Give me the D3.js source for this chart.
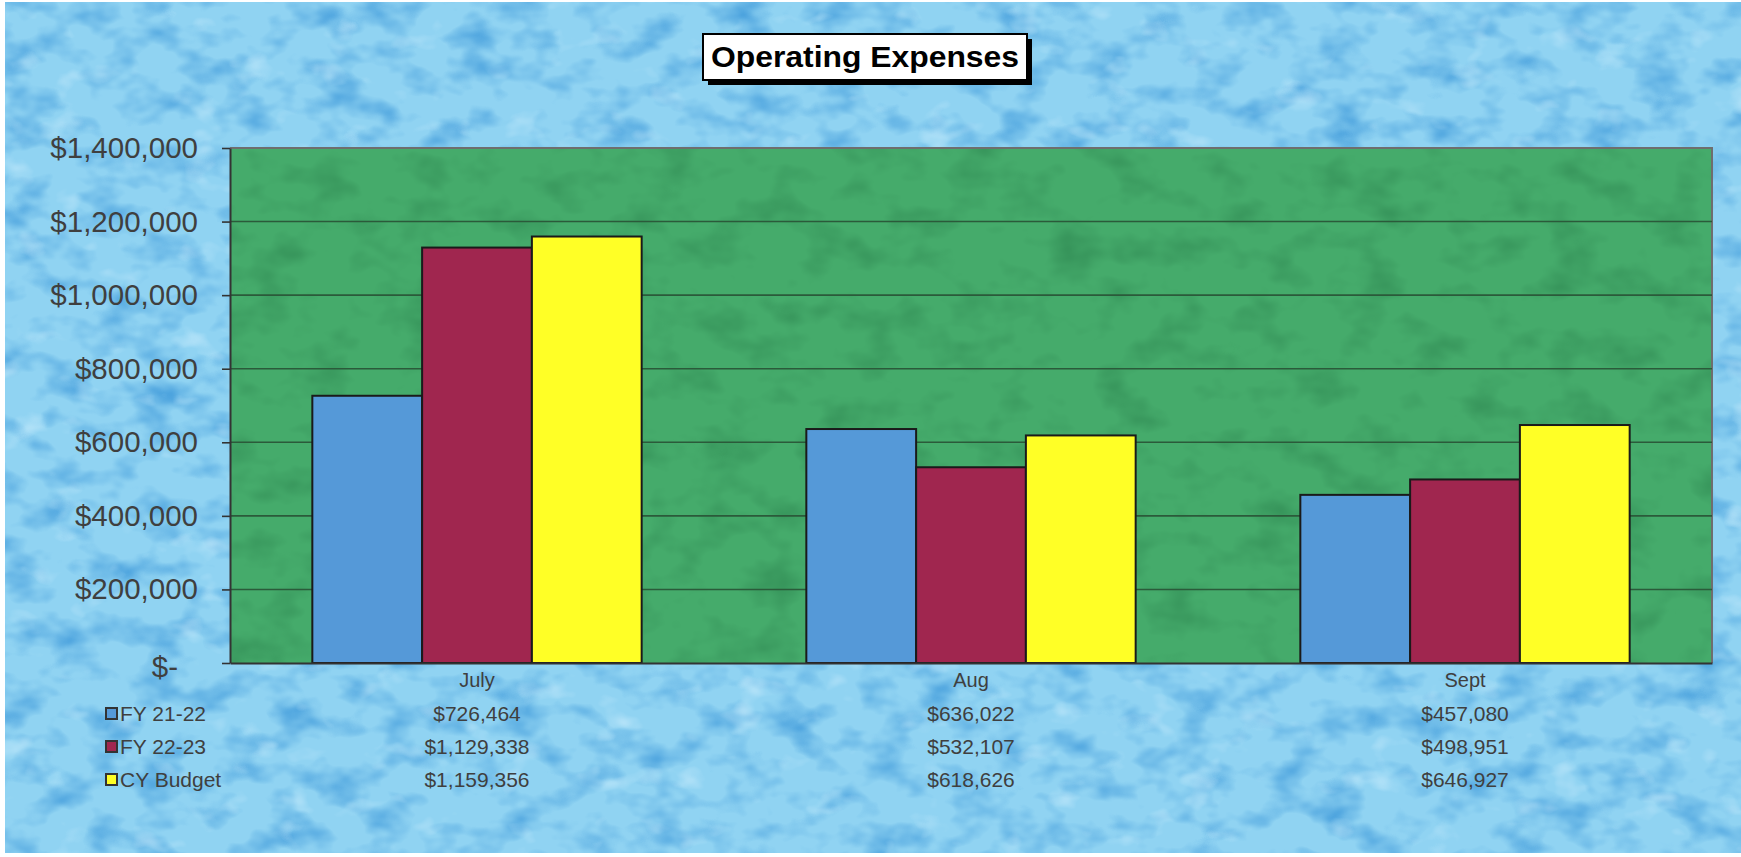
<!DOCTYPE html>
<html>
<head>
<meta charset="utf-8">
<script src="https://cdn.jsdelivr.net/npm/d3@7"></script>
<style>
  html, body { margin: 0; padding: 0; background: #ffffff; }
  svg { display: block; }
  text { font-family: "Liberation Sans", Arial, sans-serif; }
</style>
</head>
<body>
<div id="chart"></div>
<script>
// ---- Data ----
const categories = ["July", "Aug", "Sept"];
const seriesNames = ["FY 21-22", "FY 22-23", "CY Budget"];
const fy2122 = [726464, 636022, 457080];
const fy2223 = [1129338, 532107, 498951];
const cyBudget = [1159356, 618626, 646927];
const yTickValues = [0, 200000, 400000, 600000, 800000, 1000000, 1200000, 1400000];
const titleText = "Operating Expenses";

// ---- Styles ----
const seriesColors = ["#5599d8", "#a0264f", "#ffff26"];
const W = 1741, H = 857;
const plot = { left: 230, right: 1712, top: 148, bottom: 663 };

const svg = d3.select("#chart").append("svg")
  .attr("width", W).attr("height", H);

const defs = svg.append("defs");
// water texture for background: darker drops + soft highlights
const fw = defs.append("filter").attr("id", "water")
  .attr("x", 0).attr("y", 0).attr("width", "100%").attr("height", "100%")
  .attr("color-interpolation-filters", "sRGB");
fw.append("feTurbulence").attr("type", "fractalNoise")
  .attr("baseFrequency", "0.022 0.034").attr("numOctaves", 3).attr("seed", 7).attr("result", "noise");
fw.append("feColorMatrix").attr("in", "noise").attr("type", "matrix")
  .attr("values", "0 0 0 0 0.30  0 0 0 0 0.64  0 0 0 0 0.87  2.2 0 0 0 -1.0")
  .attr("result", "spots");
fw.append("feColorMatrix").attr("in", "noise").attr("type", "matrix")
  .attr("values", "0 0 0 0 0.80  0 0 0 0 0.93  0 0 0 0 0.99  0 -2.0 0 0 0.75")
  .attr("result", "hi");
fw.append("feComposite").attr("in", "spots").attr("in2", "SourceGraphic").attr("operator", "atop").attr("result", "c1");
fw.append("feComposite").attr("in", "hi").attr("in2", "c1").attr("operator", "atop");

const fg = defs.append("filter").attr("id", "greenTex")
  .attr("x", 0).attr("y", 0).attr("width", "100%").attr("height", "100%")
  .attr("color-interpolation-filters", "sRGB");
fg.append("feTurbulence").attr("type", "fractalNoise")
  .attr("baseFrequency", "0.02 0.03").attr("numOctaves", 3).attr("seed", 3).attr("result", "noise");
fg.append("feColorMatrix").attr("in", "noise").attr("type", "matrix")
  .attr("values", "0 0 0 0 0.20  0 0 0 0 0.56  0 0 0 0 0.34  1.8 0 0 0 -0.85")
  .attr("result", "spots");
fg.append("feComposite").attr("in", "spots").attr("in2", "SourceGraphic").attr("operator", "atop");

// background
svg.append("rect").attr("x", 0).attr("y", 0).attr("width", W).attr("height", H).attr("fill", "#ffffff");
svg.append("rect").attr("x", 5).attr("y", 2).attr("width", W - 5).attr("height", H - 6)
  .attr("fill", "#90d3f2").attr("filter", "url(#water)");

// scales
const x0 = d3.scaleBand().domain(categories).range([plot.left, plot.right]).paddingInner(0).paddingOuter(0);
const x1 = d3.scaleBand().domain(seriesNames).range([0, x0.bandwidth()]).paddingInner(0).paddingOuter(0.75);
const y = d3.scaleLinear().domain([0, 1400000]).range([plot.bottom, plot.top]);

// plot area
svg.append("rect").attr("x", plot.left).attr("y", plot.top)
  .attr("width", plot.right - plot.left).attr("height", plot.bottom - plot.top)
  .attr("fill", "#45ab6b").attr("filter", "url(#greenTex)");
// plot border (top/right gray)
svg.append("path")
  .attr("d", `M${plot.left},${plot.top}H${plot.right}V${plot.bottom}`)
  .attr("fill", "none").attr("stroke", "#6e6e6e").attr("stroke-width", 2);

// gridlines
svg.append("g").selectAll("line").data(yTickValues.filter(d => d > 0 && d < 1400000)).join("line")
  .attr("x1", plot.left).attr("x2", plot.right)
  .attr("y1", d => y(d)).attr("y2", d => y(d))
  .attr("stroke", "#2b5a3a").attr("stroke-width", 1.6);

// bars
const seriesValues = [fy2122, fy2223, cyBudget];
const rows = categories.map((c, i) => ({ cat: c, vals: seriesNames.map((s, k) => ({ s, v: seriesValues[k][i], k })) }));
const grp = svg.append("g").selectAll("g").data(rows).join("g")
  .attr("transform", d => `translate(${x0(d.cat)},0)`);
grp.selectAll("rect").data(d => d.vals).join("rect")
  .attr("x", d => x1(d.s)).attr("width", x1.bandwidth())
  .attr("y", d => y(d.v)).attr("height", d => y(0) - y(d.v))
  .attr("fill", d => seriesColors[d.k])
  .attr("stroke", "#1a1a1a").attr("stroke-width", 2);

// y axis
const yAxis = d3.axisLeft(y).tickValues(yTickValues).tickSizeInner(8).tickSizeOuter(0).tickPadding(24)
  .tickFormat(d => d === 0 ? "$-" : "$" + d3.format(",")(d));
const gy = svg.append("g").attr("transform", `translate(${plot.left},0)`).call(yAxis);
gy.select(".domain").attr("stroke", "#333").attr("stroke-width", 2);
gy.selectAll(".tick line").attr("stroke", "#333").attr("stroke-width", 1.6);
gy.selectAll(".tick text").attr("fill", "#3f3f3f").style("font-size", "29.5px")
  .style("font-family", '"Liberation Sans", Arial, sans-serif');
gy.selectAll(".tick").filter(d => d === 0).select("text").attr("dx", -20).attr("dy", "0.45em");

// x axis baseline
const xAxis = d3.axisBottom(x0).tickSize(0).tickPadding(10).tickFormat(d => d);
const gx = svg.append("g").attr("transform", `translate(0,${plot.bottom})`).call(xAxis);
gx.select(".domain").attr("stroke", "#333").attr("stroke-width", 2);
gx.selectAll(".tick text").attr("fill", "#3f3f3f").style("font-size", "20px")
  .style("font-family", '"Liberation Sans", Arial, sans-serif');

// data table
const rowY = [714, 747, 780];
const fmt = v => "$" + d3.format(",")(v);
const table = svg.append("g");
seriesNames.forEach((s, k) => {
  table.append("rect").attr("x", 106).attr("y", rowY[k] - 6).attr("width", 11).attr("height", 11)
    .attr("fill", seriesColors[k]).attr("stroke", "#333").attr("stroke-width", 2);
  table.append("text").attr("x", 120).attr("y", rowY[k]).attr("dy", "0.35em")
    .attr("fill", "#3f3f3f").style("font-size", "21px").text(s);
  table.selectAll(null).data(categories).join("text")
    .attr("x", d => x0(d) + x0.bandwidth() / 2).attr("y", rowY[k]).attr("dy", "0.35em")
    .attr("text-anchor", "middle").attr("fill", "#3f3f3f").style("font-size", "21px")
    .text((d, i) => fmt(seriesValues[k][i]));
});

// title
const tb = { x: 703, y: 34, w: 324, h: 46 };
svg.append("rect").attr("x", tb.x + 5).attr("y", tb.y + 5).attr("width", tb.w).attr("height", tb.h).attr("fill", "#000");
svg.append("rect").attr("x", tb.x).attr("y", tb.y).attr("width", tb.w).attr("height", tb.h)
  .attr("fill", "#ffffff").attr("stroke", "#000").attr("stroke-width", 2);
svg.append("text").attr("x", tb.x + tb.w / 2).attr("y", tb.y + tb.h / 2).attr("dy", "0.36em")
  .attr("text-anchor", "middle").attr("fill", "#000")
  .attr("textLength", 308).attr("lengthAdjust", "spacingAndGlyphs")
  .style("font-size", "29px").style("font-weight", "bold").text(titleText);
</script>
</body>
</html>
